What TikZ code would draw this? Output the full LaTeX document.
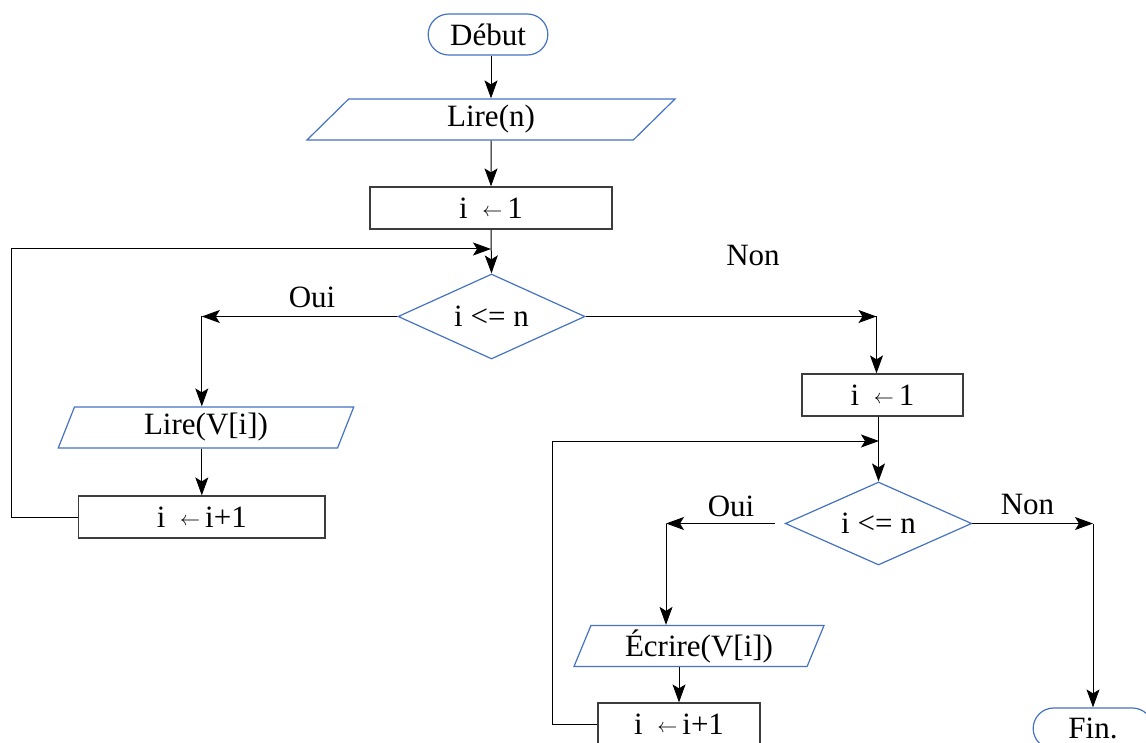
\documentclass[tikz,border=0pt]{standalone}
\usepackage{fontspec}
\setmainfont{Liberation Serif}
\usetikzlibrary{shapes.geometric,shapes.misc,arrows.meta}
\definecolor{bordbleu}{RGB}{68,114,196}
\definecolor{trait}{RGB}{60,60,60}
\newcommand{\affecte}{\hspace{3.5pt}{\fontsize{10}{10}\selectfont\raisebox{0.8pt}{$\leftarrow$}}\hspace{2.5pt}}

\begin{document}
\begin{tikzpicture}[x=0.5pt, y=-0.5pt,
	every node/.style={font=\fontsize{15.5}{18}\selectfont},
	terminal/.style={rounded rectangle, draw=bordbleu, line width=0.6pt, minimum width=66.5pt, minimum height=20.5pt},
	io/.style={trapezium, trapezium stretches body=true, draw=bordbleu, line width=0.6pt, minimum height=20.5pt, inner sep=0pt},
	process/.style={rectangle, draw=trait, line width=0.6pt, minimum height=21pt},
	decision/.style={diamond, draw=bordbleu, line width=0.6pt, shape aspect=2.2, inner sep=0pt, minimum width=93.5pt, minimum height=42.5pt},
	arr/.style={draw=black, line width=0.5pt, -{Stealth[length=9pt, width=6.5pt, inset=2pt]}},
	lbl/.style={inner sep=0pt}]
	\useasboundingbox (0,0) rectangle (1146,743);
	\node[terminal] (debut) at (488,34.5) {Début};
	\node[io, trapezium left angle=34, trapezium right angle=146, minimum width=184pt] (liren) at (491,119.5) {Lire(n)};
	\node[process, minimum width=121pt] (init1) at (491,208) {i \affecte{}1};
	\node[decision] (test1) at (491.5,316.5) {i <= n};
	\node[io, trapezium left angle=60, trapezium right angle=120, minimum width=147.75pt] (lirev) at (206,427.5) {Lire(V[i])};
	\node[process, minimum width=123.25pt] (incr1) at (201.8,517) {i \affecte{}i+1};
	\node[process, minimum width=80.5pt] (init2) at (882.5,395) {i \affecte{}1};
	\node[decision, minimum width=93.25pt, minimum height=41.5pt] (test2) at (878.5,523.5) {i <= n};
	\node[io, trapezium left angle=63, trapezium right angle=117, minimum width=125pt] (ecrire) at (699,646) {Écrire(V[i])};
	\node[process, minimum width=81pt] (incr2) at (679,724) {i \affecte{}i+1};
	\node[terminal] (fin) at (1093,728.5) {Fin.};
	\node[lbl] (oui1) at (312,297) {Oui};
	\node[lbl] (non1) at (753,255.5) {Non};
	\node[lbl] (oui2) at (731,506.5) {Oui};
	\node[lbl] (non2) at (1027.5,504.5) {Non};
	\coordinate (join1) at (491,249);
	\coordinate (join2) at (879,441);
	\coordinate (ouiA) at (incr1.north |- test1.west);
	\coordinate[xshift=-3pt] (nonA) at (init2.north |- test1.east);
	\coordinate (ouiB) at (666,523.5);
	\coordinate (nonB) at (fin.north |- test2.east);
	\draw[arr] (debut.south -| liren.north) -- (liren.north);
	\draw[arr] (liren) -- (init1);
	\draw[arr] (init1.south) -- (test1.north);
	\draw[arr] (incr1.west) -- ++(-66,0) |- (join1);
	\draw[arr] (test1.west) -- (ouiA);
	\draw[arr] (ouiA) -- (ouiA |- lirev.north);
	\draw[arr] (lirev.south -| incr1.north) -- (incr1.north);
	\draw[arr] (test1.east) -- (nonA);
	\draw[arr] (nonA) -- (nonA |- init2.north);
	\draw[arr] (init2.south -| test2.north) -- (test2.north);
	\draw[arr] (incr2.west) -- ++(-45,0) |- (join2);
	\draw[arr] ([xshift=-5pt]test2.west) -- (ouiB);
	\draw[arr] (ouiB) -- (ouiB |- ecrire.north);
	\draw[arr] (ecrire.south -| incr2.north) -- (incr2.north);
	\draw[arr] (test2.east) -- (nonB);
	\draw[arr] (nonB) -- (fin.north);
\end{tikzpicture}
\end{document}
